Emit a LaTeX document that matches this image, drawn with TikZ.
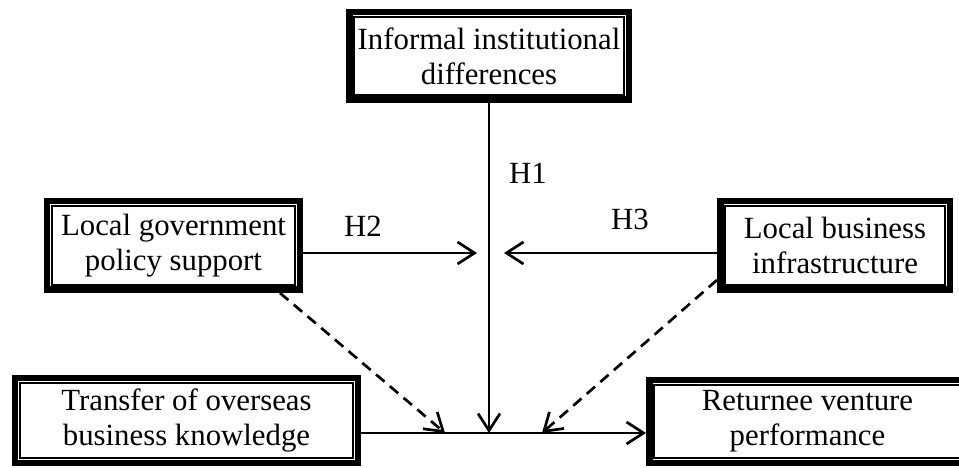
\documentclass[tikz,border=0pt]{standalone}
\usepackage{fontspec}
\setmainfont{Liberation Serif}
\usetikzlibrary{arrows.meta}
\tikzset{
  box/.style={draw, line width=6.5bp, align=center, inner sep=0pt,
    font=\fontsize{30.8bp}{35bp}\selectfont,
    path picture={\draw[line width=1.2bp]
      ([shift={(4.8bp,4.8bp)}]path picture bounding box.south west) rectangle
      ([shift={(-4.8bp,-4.8bp)}]path picture bounding box.north east);}},
  conn/.style={line width=2.7bp, -{Straight Barb[length=17bp,width=22bp]}},
  dconn/.style={conn, dash pattern=on 11bp off 7bp},
  lab/.style={font=\fontsize{30.8bp}{35bp}\selectfont, inner sep=0pt}
}
\begin{document}
\begin{tikzpicture}[x=1bp,y=-1bp]
\useasboundingbox (0,0) rectangle (959,468);
\node[box, minimum width=279.5bp, minimum height=87.5bp] (ii) at (489,56) {Informal institutional\\differences};
\node[box, minimum width=252.5bp, minimum height=88.5bp] (lg) at (173.5,245.5) {Local government\\policy support};
\node[box, minimum width=229.5bp, minimum height=88.5bp] (lb) at (835,245.5) {Local business\\infrastructure};
\node[box, minimum width=342.5bp, minimum height=84.5bp] (tr) at (186.5,420.5) {Transfer of overseas\\business knowledge};
\node[box, minimum width=316.5bp, minimum height=82.5bp] (rv) at (807.5,421.5) {Returnee venture\\performance};
\node[lab] (h1) at (528,173) {H1};
\node[lab] (h2) at (363,226) {H2};
\node[lab] (h3) at (630,219) {H3};
\coordinate (hy) at (0,253);
\coordinate (by) at (0,433);
\coordinate (h2end) at (477,253);
\coordinate (h3end) at (504,253);
\coordinate (v1) at (489,433);
\coordinate (d1) at (445,433);
\coordinate (d2) at (542,433);
\draw[conn] (ii.south) -- (v1);
\draw[conn] (lg.east |- hy) -- (h2end);
\draw[conn] (lb.west |- hy) -- (h3end);
\draw[conn] (tr.east |- by) -- (rv.west |- by);
\draw[dconn] ([xshift=-23bp]lg.south east) -- (d1);
\draw[dconn] ([yshift=13bp]lb.south west) -- (d2);
\end{tikzpicture}
\end{document}
